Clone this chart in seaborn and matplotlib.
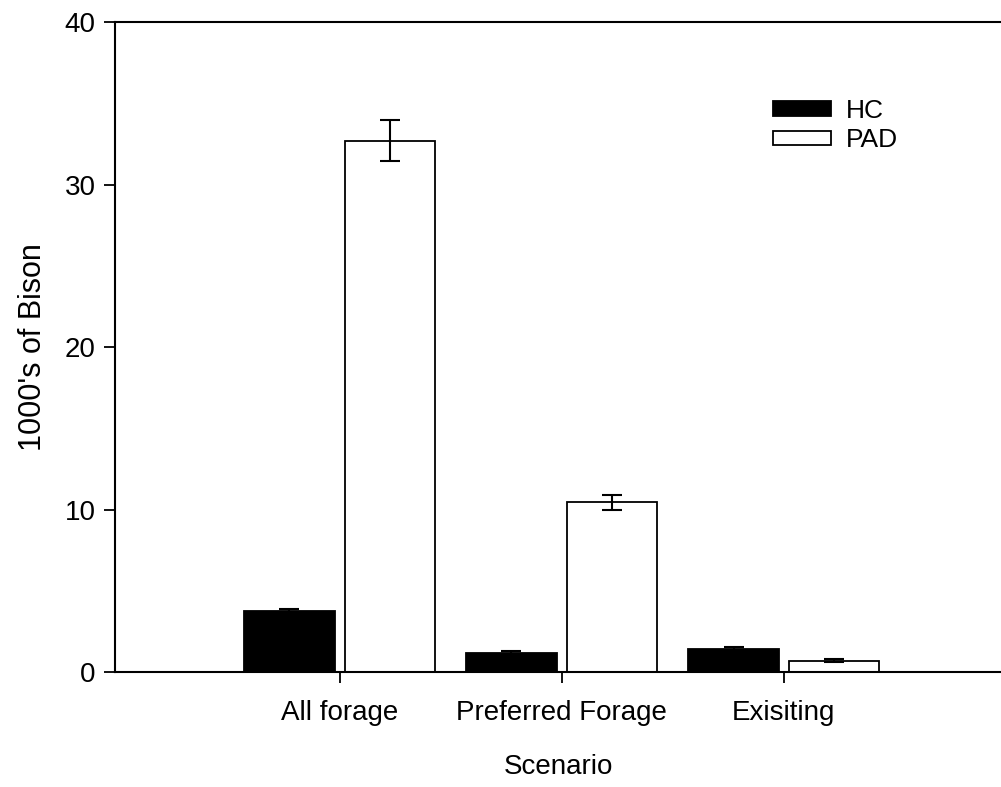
import matplotlib
matplotlib.use("Agg")
import matplotlib.pyplot as plt
import seaborn as sns
import pandas as pd
import numpy as np

scenarios = ["All forage", "Preferred Forage", "Exisiting"]
groups = ["HC", "PAD"]
hc_values = [3.75, 1.2, 1.45]
hc_errors = [0.12, 0.08, 0.1]
pad_values = [32.7, 10.45, 0.7]
pad_errors = [1.25, 0.45, 0.08]

df = pd.DataFrame({
    "Scenario": scenarios * 2,
    "Group": [groups[0]] * 3 + [groups[1]] * 3,
    "Bison": hc_values + pad_values,
    "Err": hc_errors + pad_errors,
})

sns.set_style("ticks")
plt.rcParams["font.family"] = ["Liberation Sans", "DejaVu Sans"]
plt.rcParams["text.color"] = "black"
plt.rcParams["axes.labelcolor"] = "black"
plt.rcParams["xtick.color"] = "black"
plt.rcParams["ytick.color"] = "black"

fig = plt.figure(figsize=(10.01, 7.87), dpi=100)
ax = fig.add_axes([0.115, 0.146, 0.885, 0.826])

sns.barplot(data=df, x="Scenario", y="Bison", hue="Group", order=scenarios,
            hue_order=groups, palette=["black", "white"], edgecolor="black",
            linewidth=1.3, width=0.905, gap=0.1, errorbar=None, ax=ax)

# Fehlerbalken an die Balkenmitten setzen
for cont, grp in zip(ax.containers, groups):
    sub = df[df["Group"] == grp].set_index("Scenario").loc[scenarios]
    xs = [b.get_x() + b.get_width() / 2 for b in cont]
    ax.errorbar(xs, sub["Bison"], yerr=sub["Err"], fmt="none",
                ecolor="black", elinewidth=1.5, capsize=7, capthick=1.5)

ax.set_ylim(0, 40)
ax.set_yticks([0, 10, 20, 30, 40])
ax.set_xlim(-1.01, 2.977)
ax.set_xlabel("Scenario", fontsize=20, labelpad=20)
ax.set_ylabel("1000's of Bison", fontsize=22, labelpad=12)
ax.tick_params(axis="both", labelsize=20, direction="out", length=8, width=1.3)
ax.tick_params(axis="x", pad=12)
ax.tick_params(axis="y", pad=6)

for side in ["left", "top", "bottom"]:
    ax.spines[side].set_linewidth(1.5)
    ax.spines[side].set_color("black")
ax.spines["right"].set_visible(False)

leg = ax.legend(loc="upper left", bbox_to_anchor=(0.731, 0.898), frameon=False,
                fontsize=19, handlelength=2.2, handleheight=0.45,
                labelspacing=0.2, handletextpad=0.55, title=None,
                borderaxespad=0)

fig.savefig("out.png", dpi=100)
